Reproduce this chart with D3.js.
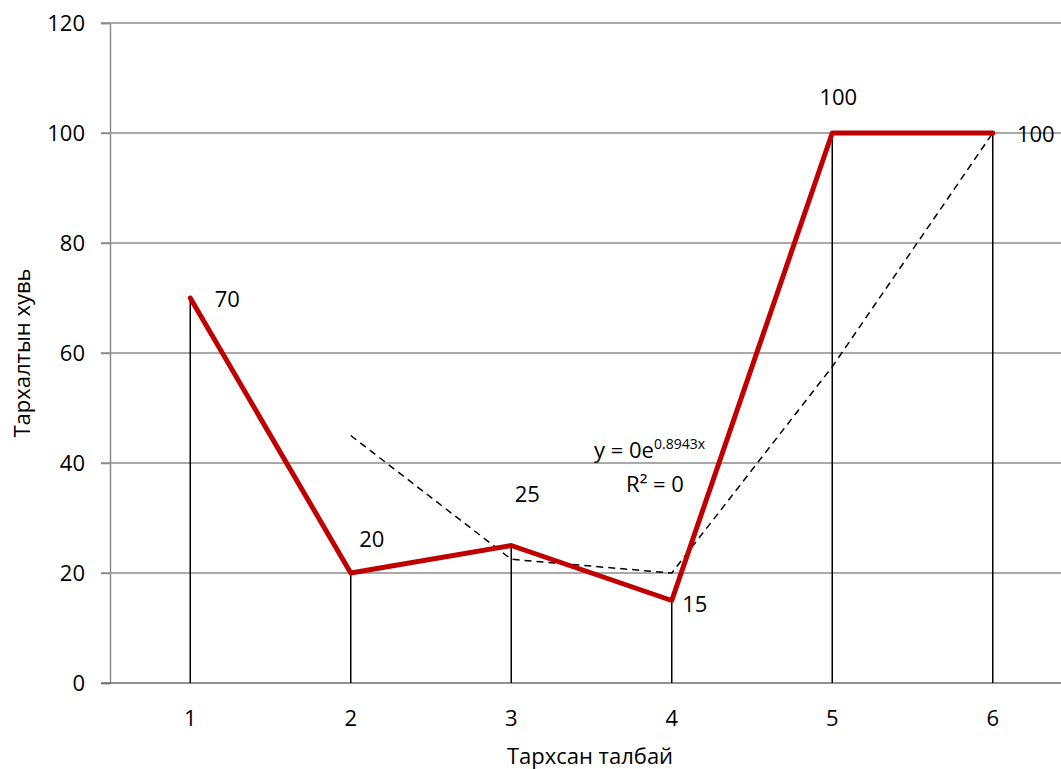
<!DOCTYPE html>
<html lang="mn">
<head>
    <meta charset="UTF-8">
    <title>Тархалтын хувь</title>
    <script src="https://cdnjs.cloudflare.com/ajax/libs/d3/7.8.5/d3.min.js"></script>
    <style type="text/css">
        body {
            margin: 0;
            background: #fff;
        }
        text {
            font-family: "Open Sans", "Noto Sans", sans-serif;
            fill: #000;
        }
    </style>
</head>
<body>
<div class="container"></div>
<script>
    const categories = [1, 2, 3, 4, 5, 6];
    const values = [70, 20, 25, 15, 100, 100];
    // 2-period moving average trendline (starts at the 2nd point)
    const trendX = [2, 3, 4, 5, 6];
    const trendValues = [45, 22.5, 20, 57.5, 100];
    const yTicks = [0, 20, 40, 60, 80, 100, 120];

    const W = 1061, H = 769;
    const plotLeft = 110, plotTop = 23, plotBottom = 683;
    const fontSize = 22;

    const svg = d3.select('.container')
        .append('svg')
        .attr('width', W)
        .attr('height', H);

    const xScale = d3.scaleBand()
        .domain(categories)
        .range([plotLeft, plotLeft + 6 * 160.5]);

    const yScale = d3.scaleLinear()
        .domain([0, 120])
        .range([plotBottom, plotTop]);

    const cx = d => xScale(d) + xScale.bandwidth() / 2;

    // gridlines
    svg.append('g')
        .selectAll('line')
        .data(yTicks.slice(1))
        .enter()
        .append('line')
        .attr('x1', plotLeft - 9)
        .attr('x2', W)
        .attr('y1', d => yScale(d))
        .attr('y2', d => yScale(d))
        .attr('stroke', '#8c8c8c')
        .attr('stroke-width', 1.5);

    // y axis
    const yAxis = d3.axisLeft(yScale)
        .tickValues(yTicks)
        .tickSize(9)
        .tickPadding(16);

    const gy = svg.append('g')
        .attr('transform', 'translate(' + plotLeft + ',0)')
        .call(yAxis);
    gy.select('.domain').attr('stroke', '#8c8c8c').attr('stroke-width', 1.5);
    gy.selectAll('.tick line').attr('stroke', '#8c8c8c').attr('stroke-width', 1.5);
    gy.selectAll('.tick text')
        .attr('font-size', fontSize)
        .attr('font-family', '"Open Sans", "Noto Sans", sans-serif');

    // x axis
    const xAxis = d3.axisBottom(xScale).tickSize(0).tickPadding(27);
    const gx = svg.append('g')
        .attr('transform', 'translate(0,' + plotBottom + ')')
        .call(xAxis);
    gx.select('.domain').remove();
    gx.append('line')
        .attr('x1', plotLeft - 9)
        .attr('x2', W)
        .attr('stroke', '#6e6e6e')
        .attr('stroke-width', 1.5);
    gx.selectAll('.tick text')
        .attr('font-size', fontSize)
        .attr('font-family', '"Open Sans", "Noto Sans", sans-serif');

    // drop lines
    svg.append('g')
        .selectAll('line')
        .data(categories)
        .enter()
        .append('line')
        .attr('x1', d => cx(d))
        .attr('x2', d => cx(d))
        .attr('y1', (d, i) => yScale(values[i]))
        .attr('y2', plotBottom)
        .attr('stroke', '#000')
        .attr('stroke-width', 1.5);

    // trendline
    const trendLine = d3.line()
        .x((d, i) => cx(trendX[i]))
        .y(d => yScale(d));

    svg.append('path')
        .attr('fill', 'none')
        .attr('stroke', '#000')
        .attr('stroke-width', 1.5)
        .attr('stroke-dasharray', '7,5')
        .attr('d', trendLine(trendValues));

    // data line
    const line = d3.line()
        .x((d, i) => cx(categories[i]))
        .y(d => yScale(d));

    svg.append('path')
        .attr('fill', 'none')
        .attr('stroke', '#c00000')
        .attr('stroke-width', 5)
        .attr('stroke-linejoin', 'round')
        .attr('stroke-linecap', 'round')
        .attr('d', line(values));

    // data labels (Excel-style placements)
    const labelOffsets = [[37, 9], [21, -26], [16, -44], [23, 11], [6, -28], [43, 9]];
    svg.append('g')
        .selectAll('text')
        .data(values)
        .enter()
        .append('text')
        .attr('x', (d, i) => cx(categories[i]) + labelOffsets[i][0])
        .attr('y', (d, i) => yScale(d) + labelOffsets[i][1])
        .attr('text-anchor', 'middle')
        .attr('font-size', fontSize)
        .text(d => d);

    // trendline equation
    const eq = svg.append('text')
        .attr('x', 594)
        .attr('y', 458)
        .attr('font-size', fontSize);
    eq.append('tspan').text('y = 0e');
    eq.append('tspan')
        .attr('dy', -9)
        .attr('font-size', 14)
        .text('0.8943x');

    svg.append('text')
        .attr('x', 655)
        .attr('y', 492)
        .attr('text-anchor', 'middle')
        .attr('font-size', fontSize)
        .text('R² = 0');

    // axis titles
    svg.append('text')
        .attr('transform', 'translate(30,' + ((plotTop + plotBottom) / 2) + ') rotate(-90)')
        .attr('text-anchor', 'middle')
        .attr('font-size', fontSize)
        .text('Тархалтын хувь');

    svg.append('text')
        .attr('x', 590)
        .attr('y', 764)
        .attr('text-anchor', 'middle')
        .attr('font-size', fontSize)
        .text('Тархсан талбай');
</script>
</body>
</html>
